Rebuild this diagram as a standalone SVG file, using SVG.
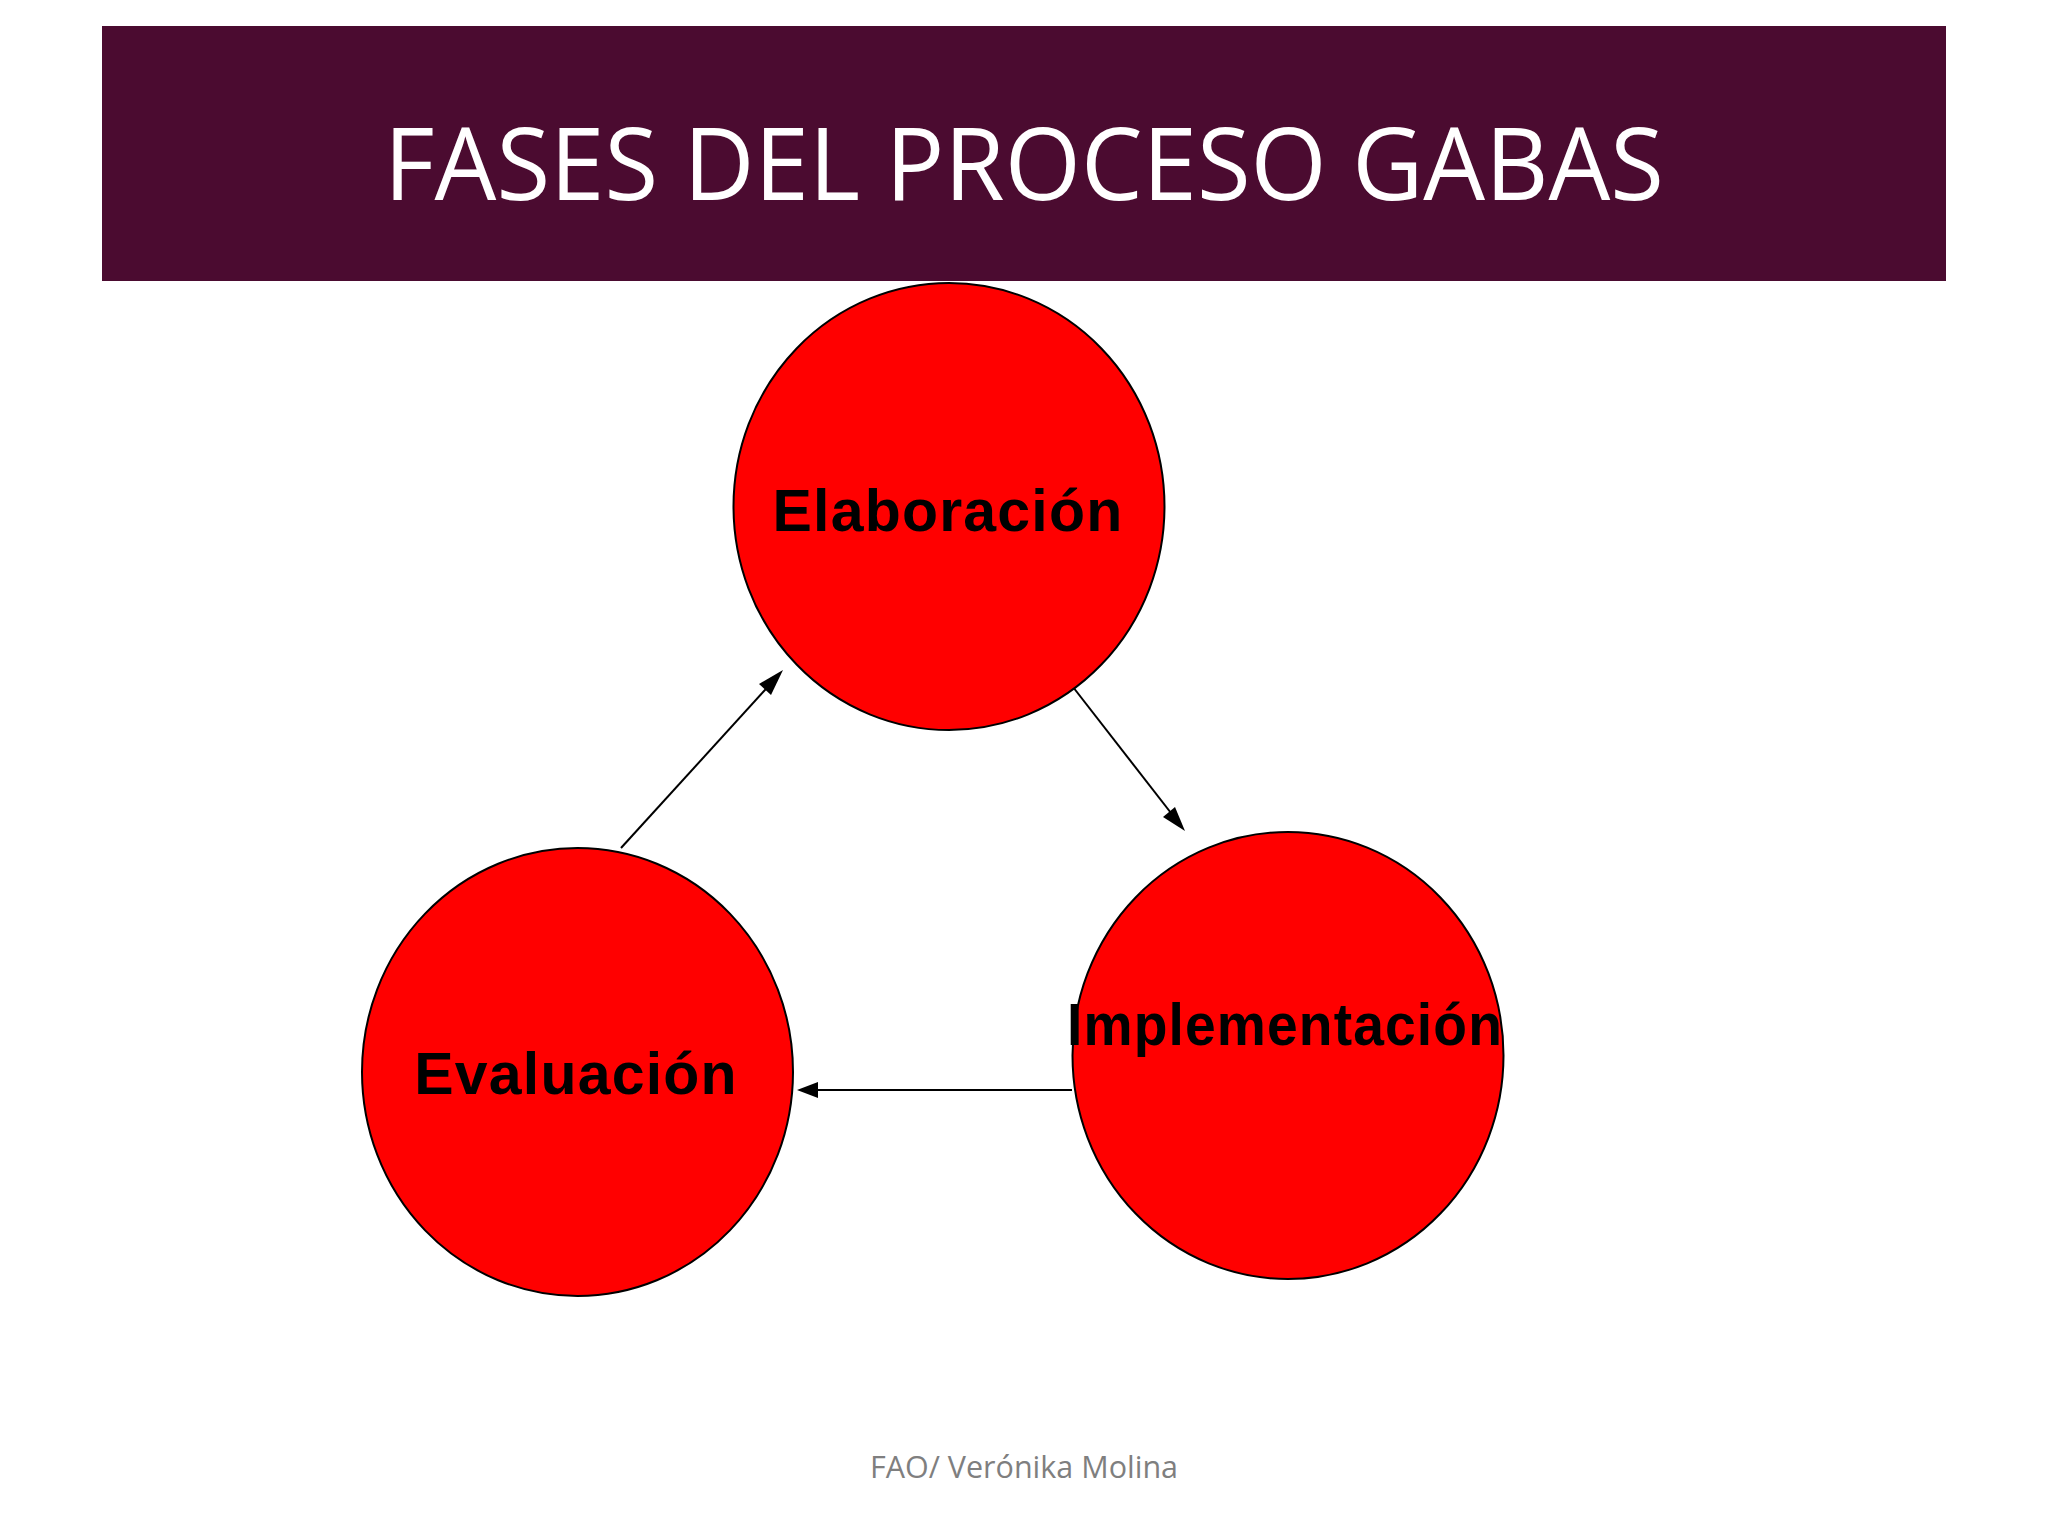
<svg xmlns="http://www.w3.org/2000/svg" width="2048" height="1536" viewBox="0 0 2048 1536">
  <defs>
    <style>
      .node { fill: #ff0000; stroke: #000000; stroke-width: 2; }
      .label { font-family: "Liberation Sans", Arial, sans-serif; font-weight: bold; font-size: 59px; fill: #000000; text-anchor: middle; letter-spacing: 1.2px; }
      .conn { stroke: #000000; stroke-width: 2; fill: none; }
      .head { fill: #000000; }
      .title { font-family: "Open Sans", "Noto Sans", sans-serif; font-size: 100px; fill: #ffffff; text-anchor: middle; }
      .footer { font-family: "Open Sans", "Noto Sans", sans-serif; font-size: 30.5px; fill: #7f7f7f; text-anchor: middle; }
    </style>
  </defs>
  <rect width="2048" height="1536" fill="#ffffff"/>
  <g id="header">
    <rect x="102" y="26" width="1844" height="255" fill="#4b0b30"/>
    <text class="title" x="1024" y="200" textLength="1280" lengthAdjust="spacingAndGlyphs">FASES DEL PROCESO GABAS</text>
  </g>
  <g id="connectors">
    <line class="conn" x1="621" y1="848" x2="775" y2="679"/>
    <path class="head" d="M783,670 L759,684 L771,695 Z"/>
    <line class="conn" x1="1073" y1="687" x2="1178" y2="822"/>
    <path class="head" d="M1185,831 L1163,817 L1175,807 Z"/>
    <line class="conn" x1="1072" y1="1090" x2="806" y2="1090"/>
    <path class="head" d="M797,1090 L818,1082 L818,1098 Z"/>
  </g>
  <g id="node-elaboracion">
    <ellipse class="node" cx="949" cy="506.5" rx="215.5" ry="223.5"/>
    <text class="label" x="948" y="531">Elaboración</text>
  </g>
  <g id="node-implementacion">
    <ellipse class="node" cx="1288" cy="1055.5" rx="215.5" ry="223.5"/>
    <text class="label" x="1285" y="1045" textLength="436" lengthAdjust="spacingAndGlyphs">Implementación</text>
  </g>
  <g id="node-evaluacion">
    <ellipse class="node" cx="577.5" cy="1072" rx="215.5" ry="224"/>
    <text class="label" x="576" y="1094">Evaluación</text>
  </g>
  <g id="footer">
    <text class="footer" x="1024" y="1478">FAO/ Verónika Molina</text>
  </g>
</svg>
